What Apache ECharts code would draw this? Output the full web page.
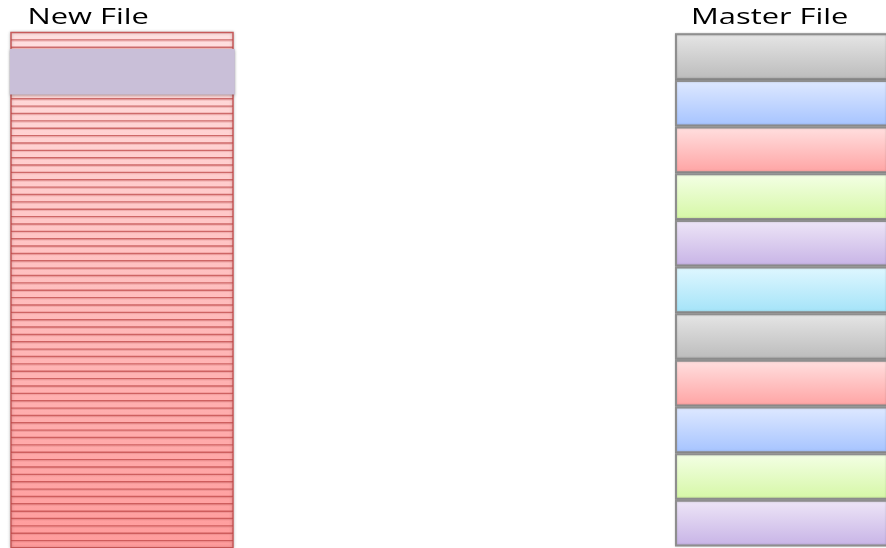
<!DOCTYPE html>
<html>
<head>
<meta charset="utf-8">
<script src="https://cdn.jsdelivr.net/npm/echarts@6/dist/echarts.min.js"></script>
<style>html,body{margin:0;padding:0;background:#fff}#main{width:886px;height:548px}</style>
</head>
<body>
<div id="main"></div>
<script>
// ---- data ----
const titles = ['New File', 'Master File'];
const newFileRowCount = 70;                       // number of thin record rows in the new file
const newFileRows = Array.from({length: newFileRowCount}, (_, i) => i);
const highlightRange = [2.24, 8.43];              // highlighted block on the new file (row units)
const masterBlocks = ['gray', 'blue', 'red', 'green', 'purple', 'cyan', 'gray', 'red', 'blue', 'green', 'purple'];
const masterColors = {
  gray:   ['#e6e6e6', '#bbbbbb'],
  blue:   ['#dfe9ff', '#a5c3ff'],
  red:    ['#ffe0e0', '#ffa3a3'],
  green:  ['#f4ffe6', '#d5f7a5'],
  purple: ['#eee6f7', '#c7b3e6'],
  cyan:   ['#e0f7ff', '#a3e3f8']
};

const chart = echarts.init(document.getElementById('main'), null, {renderer: 'canvas'});
const hiddenAxis = {show: false, splitLine: {show: false}};
const grad = (a, b) => new echarts.graphic.LinearGradient(0, 0, 0, 1, [{offset: 0, color: a}, {offset: 1, color: b}]);
const titleText = (t, x) => ({
  type: 'text', x: x, y: 7.5, scaleX: 1.47, z: 10,
  style: {text: t, x: 0, y: 0, font: '21px "Open Sans"', fill: '#000', verticalAlign: 'top', align: 'left'}
});

chart.setOption({
  animation: false,
  backgroundColor: '#fff',
  graphic: [titleText(titles[0], 27.5), titleText(titles[1], 691)],
  grid: [
    {left: 11, top: 32.5, width: 222, height: newFileRowCount * 7.5},
    {left: 675, top: 33.3, width: 240, height: masterBlocks.length * 46.65}
  ],
  xAxis: [
    Object.assign({type: 'value', min: 0, max: 1, gridIndex: 0}, hiddenAxis),
    Object.assign({type: 'value', min: 0, max: 1, gridIndex: 1}, hiddenAxis)
  ],
  yAxis: [
    Object.assign({type: 'value', min: 0, max: newFileRowCount, inverse: true, gridIndex: 0}, hiddenAxis),
    Object.assign({type: 'value', min: 0, max: masterBlocks.length, inverse: true, gridIndex: 1}, hiddenAxis)
  ],
  series: [
    { // new file column background
      type: 'custom', xAxisIndex: 0, yAxisIndex: 0, z: 1,
      data: [[0, newFileRowCount]],
      renderItem: function (params, api) {
        const p0 = api.coord([0, api.value(0)]);
        const p1 = api.coord([1, api.value(1)]);
        return {
          type: 'rect',
          shape: {x: p0[0], y: p0[1], width: p1[0] - p0[0], height: p1[1] - p0[1]},
          style: {fill: grad('#ffe0e0', '#ff9c9c'), stroke: '#c85a5a', lineWidth: 1.5,
                  shadowBlur: 3, shadowColor: 'rgba(0,0,0,0.25)'}
        };
      }
    },
    { // new file row separators
      type: 'custom', xAxisIndex: 0, yAxisIndex: 0, z: 2,
      data: newFileRows.map(r => [r]),
      renderItem: function (params, api) {
        const r = api.value(0);
        const p0 = api.coord([0, r + 1]);
        const p1 = api.coord([1, r + 1]);
        return {
          type: 'group', children: [
            {type: 'line', shape: {x1: p0[0], y1: p0[1], x2: p1[0], y2: p1[1]},
             style: {stroke: 'rgba(190,70,70,0.75)', lineWidth: 1.4}},
            {type: 'line', shape: {x1: p0[0], y1: p0[1] + 1.3, x2: p1[0], y2: p1[1] + 1.3},
             style: {stroke: 'rgba(210,120,120,0.35)', lineWidth: 1}}
          ]
        };
      }
    },
    { // highlighted block in new file
      type: 'custom', xAxisIndex: 0, yAxisIndex: 0, z: 3,
      data: [highlightRange],
      renderItem: function (params, api) {
        const p0 = api.coord([-0.005, api.value(0)]);
        const p1 = api.coord([1.008, api.value(1)]);
        return {
          type: 'rect',
          shape: {x: p0[0], y: p0[1], width: p1[0] - p0[0], height: p1[1] - p0[1]},
          style: {fill: '#c9bfd8', shadowBlur: 3, shadowColor: 'rgba(0,0,0,0.35)', shadowOffsetY: 1}
        };
      }
    },
    { // master file blocks
      type: 'custom', xAxisIndex: 1, yAxisIndex: 1, z: 2,
      data: masterBlocks.map((c, i) => [i, c]),
      renderItem: function (params, api) {
        const i = api.value(0);
        const c = masterBlocks[params.dataIndex];
        const p0 = api.coord([0, i]);
        const p1 = api.coord([1, i + 1]);
        return {
          type: 'rect',
          shape: {x: p0[0] + 1, y: p0[1] + 1, width: p1[0] - p0[0], height: p1[1] - p0[1] - 2},
          style: {fill: grad(masterColors[c][0], masterColors[c][1]), stroke: '#8e8e8e', lineWidth: 2,
                  shadowBlur: 2, shadowColor: 'rgba(0,0,0,0.2)'}
        };
      }
    }
  ]
});
</script>
</body>
</html>
